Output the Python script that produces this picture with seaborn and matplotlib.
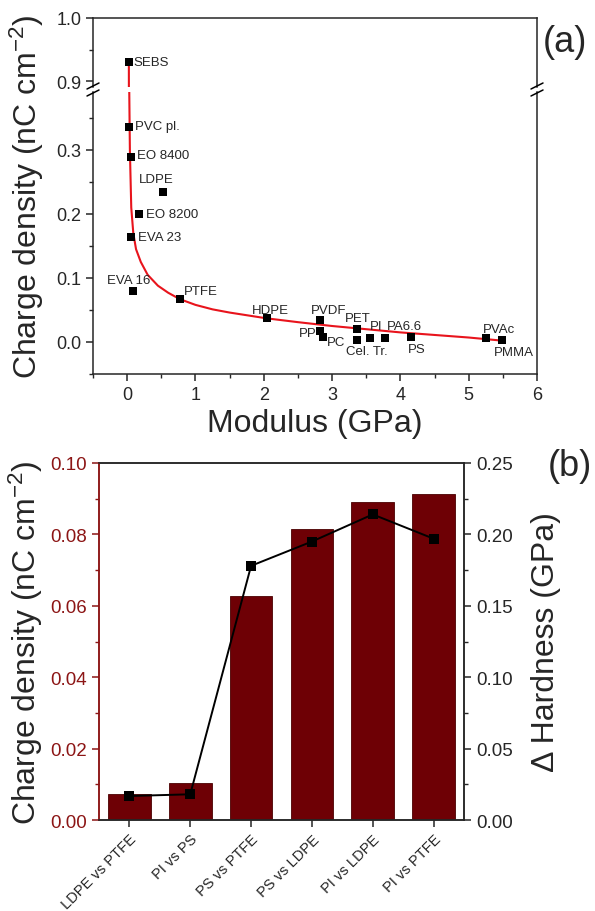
"""Charge density vs modulus (a) and charge density / hardness per pair (b)."""

import matplotlib
matplotlib.use("Agg")
import matplotlib.pyplot as plt
from matplotlib.lines import Line2D
from matplotlib.ticker import MultipleLocator
import numpy as np
import seaborn as sns

# ---- panel (a) data ----
materials = ["SEBS", "PVC pl.", "EO 8400", "LDPE", "EO 8200", "EVA 23", "EVA 16",
             "PTFE", "HDPE", "PVDF", "PP", "PC", "PET", "Cel. Tr.", "PI",
             "PA6.6", "PS", "PVAc", "PMMA"]
modulus = [0.03, 0.03, 0.06, 0.53, 0.18, 0.05, 0.09, 0.77, 2.04, 2.82, 2.82,
           2.87, 3.37, 3.37, 3.56, 3.78, 4.16, 5.26, 5.49]
charge_a = [0.93, 0.336, 0.289, 0.234, 0.200, 0.164, 0.080, 0.067, 0.037, 0.034,
            0.017, 0.008, 0.020, 0.003, 0.006, 0.006, 0.008, 0.007, 0.003]

# fitted curve
fit_x = [0.025, 0.03, 0.04, 0.06, 0.09, 0.13, 0.2, 0.3, 0.45, 0.6, 0.77, 1.0,
         1.25, 1.5, 2.04, 2.5, 3.0, 3.5, 4.0, 4.5, 5.0, 5.5]
fit_y = [0.93, 0.40, 0.30, 0.21, 0.17, 0.145, 0.125, 0.105, 0.088, 0.077, 0.067,
         0.058, 0.051, 0.046, 0.037, 0.031, 0.025, 0.020, 0.015, 0.011, 0.007, 0.002]

# ---- panel (b) data ----
pairs = ["LDPE vs PTFE", "PI vs PS", "PS vs PTFE", "PS vs LDPE", "PI vs LDPE", "PI vs PTFE"]
charge_b = [0.0073, 0.0104, 0.0627, 0.0815, 0.0890, 0.0913]
hardness = [0.0168, 0.0180, 0.178, 0.195, 0.214, 0.197]

# label placement (offset in pixels from marker, horizontal alignment)
label_pos = {
    "SEBS": (4, 0, "left"), "PVC pl.": (6, 1, "left"), "EO 8400": (6, 2, "left"),
    "LDPE": (-7, 13, "center"), "EO 8200": (7, 0, "left"), "EVA 23": (7, 0, "left"),
    "EVA 16": (-5, 11, "center"), "PTFE": (4, 8, "left"), "HDPE": (4, 8, "center"),
    "PVDF": (9, 10, "center"), "PP": (-3, -2, "right"), "PC": (4, -5, "left"),
    "PET": (0, 11, "center"), "Cel. Tr.": (9, -11, "center"), "PI": (6, 12, "center"),
    "PA6.6": (19, 12, "center"), "PS": (5, -12, "center"), "PVAc": (13, 9, "center"),
    "PMMA": (12, -12, "center"),
}

sns.set_style("ticks")
plt.rcParams["font.family"] = ["Liberation Sans", "DejaVu Sans"]
plt.rcParams["mathtext.fontset"] = "custom"
plt.rcParams["mathtext.rm"] = "Liberation Sans"
plt.rcParams["mathtext.it"] = "Liberation Sans:italic"
plt.rcParams["axes.linewidth"] = 1.1
plt.rcParams["xtick.direction"] = "out"
plt.rcParams["ytick.direction"] = "out"

W, H = 595, 912
fig = plt.figure(figsize=(W / 100, H / 100), dpi=100)


def frac(left, top, right, bottom):
    return [left / W, 1 - bottom / H, (right - left) / W, (bottom - top) / H]


ax_top = fig.add_axes(frac(93, 19, 537, 88))
ax_low = fig.add_axes(frac(93, 93, 537, 375))
ax_b = fig.add_axes(frac(99, 464, 464, 821))

tick_kw = dict(labelsize=13, width=1.1, length=5)
minor_kw = dict(width=1.0, length=3)

for ax in (ax_top, ax_low):
    ax.plot(fit_x, fit_y, color="#e8141c", lw=1.5, zorder=2)
    sns.scatterplot(x=modulus, y=charge_a, marker="s", color="black", s=34,
                    linewidth=0, ax=ax, zorder=3)
    ax.set_xlim(-0.5, 6)
    ax.xaxis.set_major_locator(MultipleLocator(1))
    ax.xaxis.set_minor_locator(MultipleLocator(0.5))
    ax.tick_params(which="major", **tick_kw)
    ax.tick_params(which="minor", **minor_kw)

ax_top.set_ylim(0.8905, 1.0)
ax_top.yaxis.set_major_locator(MultipleLocator(0.1))
ax_top.yaxis.set_minor_locator(MultipleLocator(0.05))
ax_top.yaxis.set_major_formatter(matplotlib.ticker.FormatStrFormatter("%.1f"))
ax_top.spines["bottom"].set_visible(False)
ax_top.tick_params(which="both", bottom=False, labelbottom=False)

ax_low.set_ylim(-0.05, 0.3906)
ax_low.yaxis.set_major_locator(MultipleLocator(0.1))
ax_low.yaxis.set_minor_locator(MultipleLocator(0.05))
ax_low.yaxis.set_major_formatter(matplotlib.ticker.FormatStrFormatter("%.1f"))
ax_low.spines["top"].set_visible(False)
ax_low.set_xlabel("Modulus (GPa)", fontsize=23, labelpad=4)

for name, x, y in zip(materials, modulus, charge_a):
    dx, dy, ha = label_pos[name]
    target = ax_top if y > 0.5 else ax_low
    target.annotate(name, (x, y), xytext=(dx, dy), textcoords="offset pixels",
                    ha=ha, va="center", fontsize=9.5, zorder=4)

# axis break marks
for xp in (93, 537):
    for yp in (87, 94):
        fig.add_artist(Line2D([(xp - 6) / W, (xp + 6) / W],
                              [1 - (yp + 3) / H, 1 - (yp - 3) / H],
                              color="black", lw=1.1))

fig.text(0.045, 1 - 197 / H, r"Charge density (nC cm$^{\mathregular{-2}}$)",
         rotation=90, ha="center", va="center", fontsize=23)
fig.text(0.95, 1 - 42 / H, "(a)", ha="center", va="center", fontsize=26)

# ---- panel (b) ----
maroon = "#8c1515"
sns.barplot(x=pairs, y=charge_b, color="#6e0005", width=0.7, saturation=1,
            edgecolor="#4a0000", linewidth=0.6, ax=ax_b)
ax_b.set_xlim(-0.5, 5.5)
ax_b.set_ylim(0, 0.10)
ax_b.yaxis.set_major_locator(MultipleLocator(0.02))
ax_b.yaxis.set_minor_locator(MultipleLocator(0.01))
ax_b.yaxis.set_major_formatter(matplotlib.ticker.FormatStrFormatter("%.2f"))
ax_b.tick_params(axis="y", which="major", labelsize=13.5, width=1.1, length=5,
                 colors=maroon, labelcolor=maroon)
ax_b.tick_params(axis="y", which="minor", colors=maroon, **minor_kw)
ax_b.tick_params(axis="x", which="major", width=1.1, length=5, labelsize=10.5)
ax_b.spines["left"].set_color(maroon)
plt.setp(ax_b.get_xticklabels(), rotation=45, ha="right", rotation_mode="anchor")
ax_b.set_ylabel(r"Charge density (nC cm$^{\mathregular{-2}}$)", fontsize=23, labelpad=4)

ax_h = ax_b.twinx()
sns.lineplot(x=np.arange(len(pairs)), y=hardness, color="black", marker="s",
             markersize=7.5, markeredgewidth=0, linewidth=1.4, ax=ax_h)
ax_h.set_ylim(0, 0.25)
ax_h.yaxis.set_major_locator(MultipleLocator(0.05))
ax_h.yaxis.set_minor_locator(MultipleLocator(0.025))
ax_h.yaxis.set_major_formatter(matplotlib.ticker.FormatStrFormatter("%.2f"))
ax_h.tick_params(which="major", labelsize=13.5, width=1.1, length=5)
ax_h.tick_params(which="minor", **minor_kw)
ax_h.spines["left"].set_color(maroon)
ax_h.set_ylabel("\u0394 Hardness (GPa)", fontsize=23, labelpad=13)
fig.text(0.958, 1 - 467 / H, "(b)", ha="center", va="center", fontsize=26)

fig.savefig("out.png", dpi=100)
plt.close(fig)
